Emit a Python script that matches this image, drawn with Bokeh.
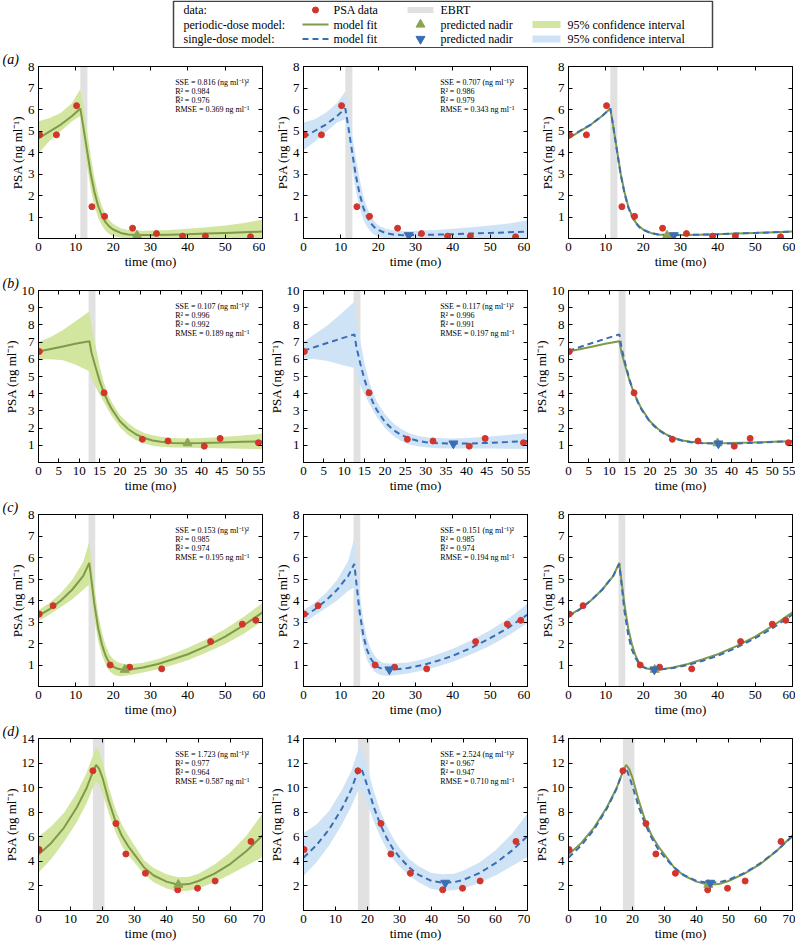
from bokeh.plotting import figure
from bokeh.models import FixedTicker, LinearAxis, Range1d, BoxAnnotation, Label
from bokeh.layouts import column, row
from bokeh.embed import file_html
from bokeh.resources import INLINE
from bokeh.core.properties import value

FONT = "Liberation Serif"
RED = "#d2352b"
GREEN = "#7e9a4a"
GREEN_BAND = "#d3e69f"
GREEN_TRI = "#8ca352"
BLUE = "#3a6db4"
BLUE_BAND = "#cfe3f6"
EBRT_C = "#e1e1e1"

panel_tags = ["(a)", "(b)", "(c)", "(d)"]
x_max = [60, 55, 60, 70]
y_max = [8, 10, 8, 14]
x_ticks = [[0, 10, 20, 30, 40, 50, 60], [0, 5, 10, 15, 20, 25, 30, 35, 40, 45, 50, 55],
           [0, 10, 20, 30, 40, 50, 60], [0, 10, 20, 30, 40, 50, 60, 70]]
y_ticks = [[1, 2, 3, 4, 5, 6, 7, 8], [1, 2, 3, 4, 5, 6, 7, 8, 9, 10],
           [1, 2, 3, 4, 5, 6, 7, 8], [2, 4, 6, 8, 10, 12, 14]]

ebrt_start = [11.2, 12.3, 13.4, 17.0]
ebrt_end = [13.1, 14.0, 15.2, 20.6]

# PSA data
a_time = [0.3, 4.8, 10.2, 14.3, 17.7, 25.2, 31.6, 38.6, 44.7, 56.8]
a_psa = [4.82, 4.82, 6.18, 1.48, 1.03, 0.48, 0.23, 0.11, 0.11, 0.08]
b_time = [0.2, 16.1, 25.5, 31.8, 40.7, 44.6, 54.0]
b_psa = [6.45, 4.05, 1.35, 1.25, 0.95, 1.4, 1.15]
c_time = [0.2, 3.9, 19.2, 24.4, 33.0, 46.1, 54.6, 58.2]
c_psa = [3.37, 3.76, 1.0, 0.9, 0.82, 2.09, 2.9, 3.08]
d_time = [0.2, 17.0, 24.2, 27.3, 33.4, 43.5, 49.7, 55.2, 66.4]
d_psa = [4.96, 11.37, 7.08, 4.6, 3.03, 1.68, 1.81, 2.4, 5.62]

# model curves
a_t = [0, 3, 6, 9, 11.2, 12, 13, 14, 15, 16, 17, 18, 19, 20, 22, 24, 26, 28, 30, 35, 40, 45, 50, 55, 60]
a_pd_fit = [4.65, 4.98, 5.3, 5.7, 6.05, 5.2, 4.1, 3.0, 2.15, 1.5, 1.05, 0.75, 0.55, 0.42, 0.26, 0.19, 0.16, 0.16, 0.16, 0.18, 0.2, 0.23, 0.26, 0.29, 0.32]
a_pd_lo = [3.95, 4.55, 5.0, 5.45, 5.7, 4.5, 3.4, 2.3, 1.5, 0.95, 0.6, 0.35, 0.2, 0.1, 0.03, 0.0, 0.0, 0.0, 0.0, 0.0, 0.0, 0.0, 0.0, 0.0, 0.0]
a_pd_hi = [5.45, 5.6, 5.85, 6.3, 6.95, 6.2, 5.0, 3.8, 2.8, 2.05, 1.5, 1.1, 0.85, 0.68, 0.48, 0.4, 0.37, 0.36, 0.37, 0.4, 0.45, 0.52, 0.6, 0.72, 0.88]
a_sd_fit = [4.7, 5.0, 5.3, 5.7, 6.05, 5.2, 4.05, 2.95, 2.1, 1.45, 1.0, 0.72, 0.52, 0.4, 0.25, 0.19, 0.16, 0.15, 0.16, 0.18, 0.2, 0.23, 0.26, 0.29, 0.32]
a_sd_lo = [4.1, 4.5, 4.95, 5.4, 5.55, 4.4, 3.3, 2.25, 1.45, 0.9, 0.55, 0.32, 0.18, 0.08, 0.02, 0.0, 0.0, 0.0, 0.0, 0.0, 0.0, 0.0, 0.0, 0.0, 0.0]
a_sd_hi = [5.4, 5.55, 5.85, 6.3, 6.85, 6.1, 4.9, 3.75, 2.8, 2.0, 1.45, 1.05, 0.8, 0.62, 0.45, 0.38, 0.35, 0.35, 0.36, 0.4, 0.45, 0.52, 0.6, 0.7, 0.85]

b_t = [0, 3, 6, 9, 12.5, 13, 14, 15, 16, 17, 18, 20, 22, 24, 26, 28, 30, 33, 36, 40, 45, 50, 55]
b_pd_fit = [6.45, 6.6, 6.75, 6.9, 7.05, 6.4, 5.55, 4.75, 4.1, 3.55, 3.1, 2.4, 1.95, 1.63, 1.42, 1.28, 1.2, 1.14, 1.12, 1.13, 1.16, 1.2, 1.24]
b_pd_lo = [6.0, 6.0, 5.95, 5.7, 5.3, 4.9, 4.4, 3.95, 3.55, 3.1, 2.7, 2.05, 1.6, 1.3, 1.1, 0.98, 0.92, 0.87, 0.86, 0.85, 0.83, 0.8, 0.77]
b_pd_hi = [7.0, 7.3, 7.7, 8.2, 8.8, 8.0, 6.8, 5.6, 4.7, 4.0, 3.5, 2.75, 2.3, 1.95, 1.72, 1.58, 1.5, 1.43, 1.4, 1.42, 1.48, 1.57, 1.68]
b_sd_fit = [6.5, 6.73, 6.96, 7.19, 7.45, 6.7, 5.7, 4.8, 4.1, 3.52, 3.05, 2.35, 1.9, 1.6, 1.4, 1.26, 1.18, 1.12, 1.1, 1.1, 1.14, 1.19, 1.25]
b_sd_lo = [6.05, 6.0, 5.9, 5.7, 5.5, 5.0, 4.45, 3.95, 3.5, 3.05, 2.65, 2.0, 1.55, 1.25, 1.05, 0.95, 0.88, 0.83, 0.82, 0.82, 0.82, 0.8, 0.78]
b_sd_hi = [7.0, 7.5, 8.0, 8.6, 9.35, 8.4, 7.0, 5.75, 4.8, 4.1, 3.55, 2.8, 2.3, 1.95, 1.7, 1.55, 1.47, 1.42, 1.4, 1.42, 1.5, 1.6, 1.72]

c_t = [0, 3, 6, 9, 12, 13.6, 14.5, 15, 16, 17, 18, 19, 20, 21, 22, 23.2, 25, 28, 32, 36, 40, 45, 50, 55, 60]
c_pd_fit = [3.3, 3.6, 4.0, 4.5, 5.15, 5.75, 4.5, 3.8, 2.7, 1.95, 1.42, 1.08, 0.92, 0.84, 0.8, 0.78, 0.8, 0.88, 1.05, 1.27, 1.5, 1.88, 2.32, 2.85, 3.45]
c_pd_lo = [3.05, 3.35, 3.7, 4.05, 4.5, 4.75, 3.7, 3.1, 2.1, 1.45, 1.0, 0.72, 0.57, 0.5, 0.48, 0.5, 0.55, 0.65, 0.8, 1.0, 1.22, 1.58, 1.98, 2.45, 3.05]
c_pd_hi = [3.55, 3.9, 4.35, 4.95, 5.8, 6.75, 5.4, 4.6, 3.35, 2.5, 1.9, 1.5, 1.28, 1.15, 1.08, 1.05, 1.05, 1.1, 1.28, 1.52, 1.8, 2.2, 2.68, 3.25, 3.88]
c_sd_fit = [3.25, 3.58, 4.0, 4.5, 5.15, 5.7, 4.3, 3.5, 2.4, 1.7, 1.3, 1.05, 0.9, 0.83, 0.8, 0.79, 0.8, 0.86, 1.0, 1.2, 1.43, 1.8, 2.25, 2.75, 3.35]
c_sd_lo = [2.95, 3.3, 3.65, 4.0, 4.45, 4.6, 3.4, 2.75, 1.85, 1.25, 0.9, 0.7, 0.58, 0.52, 0.5, 0.5, 0.53, 0.6, 0.75, 0.93, 1.15, 1.5, 1.9, 2.38, 2.95]
c_sd_hi = [3.55, 3.9, 4.35, 4.95, 5.85, 6.9, 5.3, 4.4, 3.1, 2.25, 1.75, 1.45, 1.25, 1.13, 1.08, 1.07, 1.08, 1.12, 1.27, 1.5, 1.76, 2.15, 2.62, 3.18, 3.85]

d_t = [0, 4, 8, 12, 15, 17, 18, 19, 20, 22, 24, 26, 28, 30, 33, 36, 40, 43.7, 47, 50, 55, 60, 65, 70]
d_pd_fit = [4.55, 5.5, 6.75, 8.4, 9.95, 11.3, 11.85, 11.5, 10.8, 8.9, 7.3, 6.1, 5.25, 4.55, 3.5, 2.85, 2.35, 2.1, 2.15, 2.4, 3.0, 3.8, 4.85, 6.1]
d_pd_lo = [3.1, 4.2, 5.6, 7.2, 8.7, 10.0, 10.5, 10.2, 9.6, 7.9, 6.4, 5.3, 4.5, 3.9, 2.95, 2.3, 1.8, 1.55, 1.6, 1.8, 2.3, 2.95, 3.65, 4.35]
d_pd_hi = [6.0, 6.85, 7.95, 9.6, 11.2, 12.6, 13.3, 12.9, 12.1, 10.0, 8.3, 7.0, 6.1, 5.3, 4.1, 3.45, 2.95, 2.7, 2.75, 3.0, 3.75, 4.75, 6.1, 7.9]
d_sd_fit = [4.3, 5.3, 6.6, 8.3, 9.9, 11.35, 11.6, 10.9, 10.1, 8.4, 7.0, 5.9, 5.0, 4.35, 3.5, 2.9, 2.4, 2.26, 2.3, 2.5, 3.05, 3.85, 4.85, 6.05]
d_sd_lo = [2.8, 3.9, 5.3, 7.0, 8.5, 9.7, 9.9, 9.4, 8.7, 7.2, 6.0, 5.0, 4.2, 3.6, 2.85, 2.3, 1.75, 1.6, 1.65, 1.8, 2.25, 2.85, 3.6, 4.35]
d_sd_hi = [6.3, 7.0, 8.1, 9.8, 11.4, 13.0, 13.3, 12.5, 11.6, 9.7, 8.1, 6.9, 5.9, 5.1, 4.2, 3.6, 3.05, 2.95, 3.0, 3.25, 3.9, 4.9, 6.2, 7.9]

# predicted nadirs
pd_nadir_t = [26.4, 36.6, 23.1, 43.7]
pd_nadir_v = [0.14, 1.12, 0.78, 2.1]
sd_nadir_t = [28.2, 36.8, 23.0, 44.3]
sd_nadir_v = [0.15, 1.1, 0.79, 2.25]

# fit statistics
sse_pd = ["0.816", "0.107", "0.153", "1.723"]
r2_pd = ["0.984", "0.996", "0.985", "0.977"]
r2adj_pd = ["0.976", "0.992", "0.974", "0.964"]
rmse_pd = ["0.369", "0.189", "0.195", "0.587"]
sse_sd = ["0.707", "0.117", "0.151", "2.524"]
r2_sd = ["0.986", "0.996", "0.985", "0.967"]
r2adj_sd = ["0.979", "0.991", "0.974", "0.947"]
rmse_sd = ["0.343", "0.197", "0.194", "0.710"]

rows_data = [
    dict(time=a_time, psa=a_psa, t=a_t, pd=(a_pd_fit, a_pd_lo, a_pd_hi), sd=(a_sd_fit, a_sd_lo, a_sd_hi)),
    dict(time=b_time, psa=b_psa, t=b_t, pd=(b_pd_fit, b_pd_lo, b_pd_hi), sd=(b_sd_fit, b_sd_lo, b_sd_hi)),
    dict(time=c_time, psa=c_psa, t=c_t, pd=(c_pd_fit, c_pd_lo, c_pd_hi), sd=(c_sd_fit, c_sd_lo, c_sd_hi)),
    dict(time=d_time, psa=d_psa, t=d_t, pd=(d_pd_fit, d_pd_lo, d_pd_hi), sd=(d_sd_fit, d_sd_lo, d_sd_hi)),
]


def style_axis(ax, labels):
    ax.major_tick_in = 4
    ax.major_tick_out = 0
    ax.minor_tick_line_color = None
    ax.axis_line_color = "black"
    ax.major_tick_line_color = "black"
    ax.major_label_text_font = FONT
    if labels:
        ax.major_label_text_color = "black"
        ax.major_label_text_font_size = "13px"
        ax.major_label_standoff = 4
        ax.axis_label_text_font = FONT
        ax.axis_label_text_font_size = "13px"
        ax.axis_label_text_font_style = "normal"
        ax.axis_label_text_color = "black"
        ax.axis_label_standoff = 0
    else:
        ax.major_label_text_color = None
        ax.major_label_text_font_size = "1px"
        ax.major_label_standoff = 0


def panel(i, col):
    R = rows_data[i]
    p = figure(width=265, height=224, x_range=Range1d(0, x_max[i]), y_range=Range1d(0, y_max[i]),
               output_backend="svg", toolbar_location=None,
               min_border_left=38, min_border_right=3, min_border_top=18, min_border_bottom=34)
    # panel tag as the figure title (blank on the other columns so frames align)
    p.title.text = panel_tags[i] if col == 0 else " "
    p.title.text_font = FONT
    p.title.text_font_size = "14px"
    p.title.text_font_style = "italic"
    p.title.text_color = "black"
    p.title.align = "left"
    p.title.offset = -36
    p.title.standoff = 0
    p.grid.visible = False
    p.outline_line_color = "black"
    p.outline_line_alpha = 1
    p.xaxis.ticker = FixedTicker(ticks=x_ticks[i])
    p.yaxis.ticker = FixedTicker(ticks=y_ticks[i])
    p.xaxis.axis_label = "time (mo)"
    p.yaxis.axis_label = "PSA (ng ml⁻¹)"
    style_axis(p.xaxis[0], True)
    style_axis(p.yaxis[0], True)
    top = LinearAxis(ticker=FixedTicker(ticks=x_ticks[i]))
    style_axis(top, False)
    p.add_layout(top, "above")
    right = LinearAxis(ticker=FixedTicker(ticks=y_ticks[i]))
    style_axis(right, False)
    p.add_layout(right, "right")

    p.add_layout(BoxAnnotation(left=ebrt_start[i], right=ebrt_end[i], fill_color=EBRT_C,
                               fill_alpha=1, line_color=None, level="underlay"))
    t = R["t"]
    if col == 0:
        p.varea(x=t, y1=R["pd"][1], y2=R["pd"][2], fill_color=GREEN_BAND, fill_alpha=1)
    if col == 1:
        p.varea(x=t, y1=R["sd"][1], y2=R["sd"][2], fill_color=BLUE_BAND, fill_alpha=1)
    if col in (0, 2):
        p.line(t, R["pd"][0], line_color=GREEN, line_width=2)
    if col in (1, 2):
        p.line(t, R["sd"][0], line_color=BLUE, line_width=2, line_dash="6 4")
    p.scatter(R["time"], R["psa"], size=6, color=RED)
    if col in (0, 2):
        p.scatter([pd_nadir_t[i]], [pd_nadir_v[i]], marker="triangle", size=9, color=GREEN_TRI)
    if col in (1, 2):
        p.scatter([sd_nadir_t[i]], [sd_nadir_v[i]], marker="inverted_triangle", size=9, color=BLUE)

    if col < 2:
        if col == 0:
            s = (sse_pd[i], r2_pd[i], r2adj_pd[i], rmse_pd[i])
        else:
            s = (sse_sd[i], r2_sd[i], r2adj_sd[i], rmse_sd[i])
        lines = [f"SSE = {s[0]} (ng ml⁻¹)²", f"R² = {s[1]}", f"R\u0305² = {s[2]}", f"RMSE = {s[3]} ng ml⁻¹"]
        for k, txt in enumerate(lines):
            p.add_layout(Label(x=x_max[i] * 0.61, y=y_max[i], y_offset=-(16 + 9 * k), text=txt,
                               text_font=FONT, text_font_size="8px", text_baseline="middle",
                               text_color="black"))
    return p


# legend panel
lg = figure(width=795, height=48, x_range=Range1d(0, 795), y_range=Range1d(48, 0),
            output_backend="svg", toolbar_location=None, min_border=0,
            x_axis_type=None, y_axis_type=None)
lg.grid.visible = False
lg.outline_line_color = None
lg.quad(left=[173], right=[712], top=[0.75], bottom=[47.25], fill_color="white", line_color="#444444", line_width=1.5)
ry = [9.5, 24, 38.5]
lg.text(x=[183, 183, 183], y=ry, text=["data:", "periodic-dose model:", "single-dose model:"],
        text_font=value(FONT), text_font_size="12px", text_baseline="middle", text_color="black")
lg.scatter([315], [ry[0]], size=6, color=RED)
lg.quad(left=[407], right=[433], top=[ry[0] - 3], bottom=[ry[0] + 3], fill_color=EBRT_C, line_color=None)
lg.line([302, 328], [ry[1], ry[1]], line_color=GREEN, line_width=2)
lg.line([302, 328], [ry[2], ry[2]], line_color=BLUE, line_width=2, line_dash="6 4")
lg.scatter([420], [ry[1]], marker="triangle", size=9, color=GREEN_TRI)
lg.scatter([420], [ry[2]], marker="inverted_triangle", size=9, color=BLUE)
lg.quad(left=[532], right=[560], top=[ry[1] - 3.5], bottom=[ry[1] + 3.5], fill_color=GREEN_BAND, line_color=None)
lg.quad(left=[532], right=[560], top=[ry[2] - 3.5], bottom=[ry[2] + 3.5], fill_color=BLUE_BAND, line_color=None)
lg.text(x=[333, 440, 333, 440, 567, 333, 440, 567],
        y=[ry[0], ry[0], ry[1], ry[1], ry[1], ry[2], ry[2], ry[2]],
        text=["PSA data", "EBRT", "model fit", "predicted nadir", "95% confidence interval",
              "model fit", "predicted nadir", "95% confidence interval"],
        text_font=value(FONT), text_font_size="12px", text_baseline="middle", text_color="black")

grid_rows = [row(*[panel(i, c) for c in range(3)]) for i in range(4)]
layout = column(lg, *grid_rows)

open("out.html", "w").write(file_html(layout, INLINE))
